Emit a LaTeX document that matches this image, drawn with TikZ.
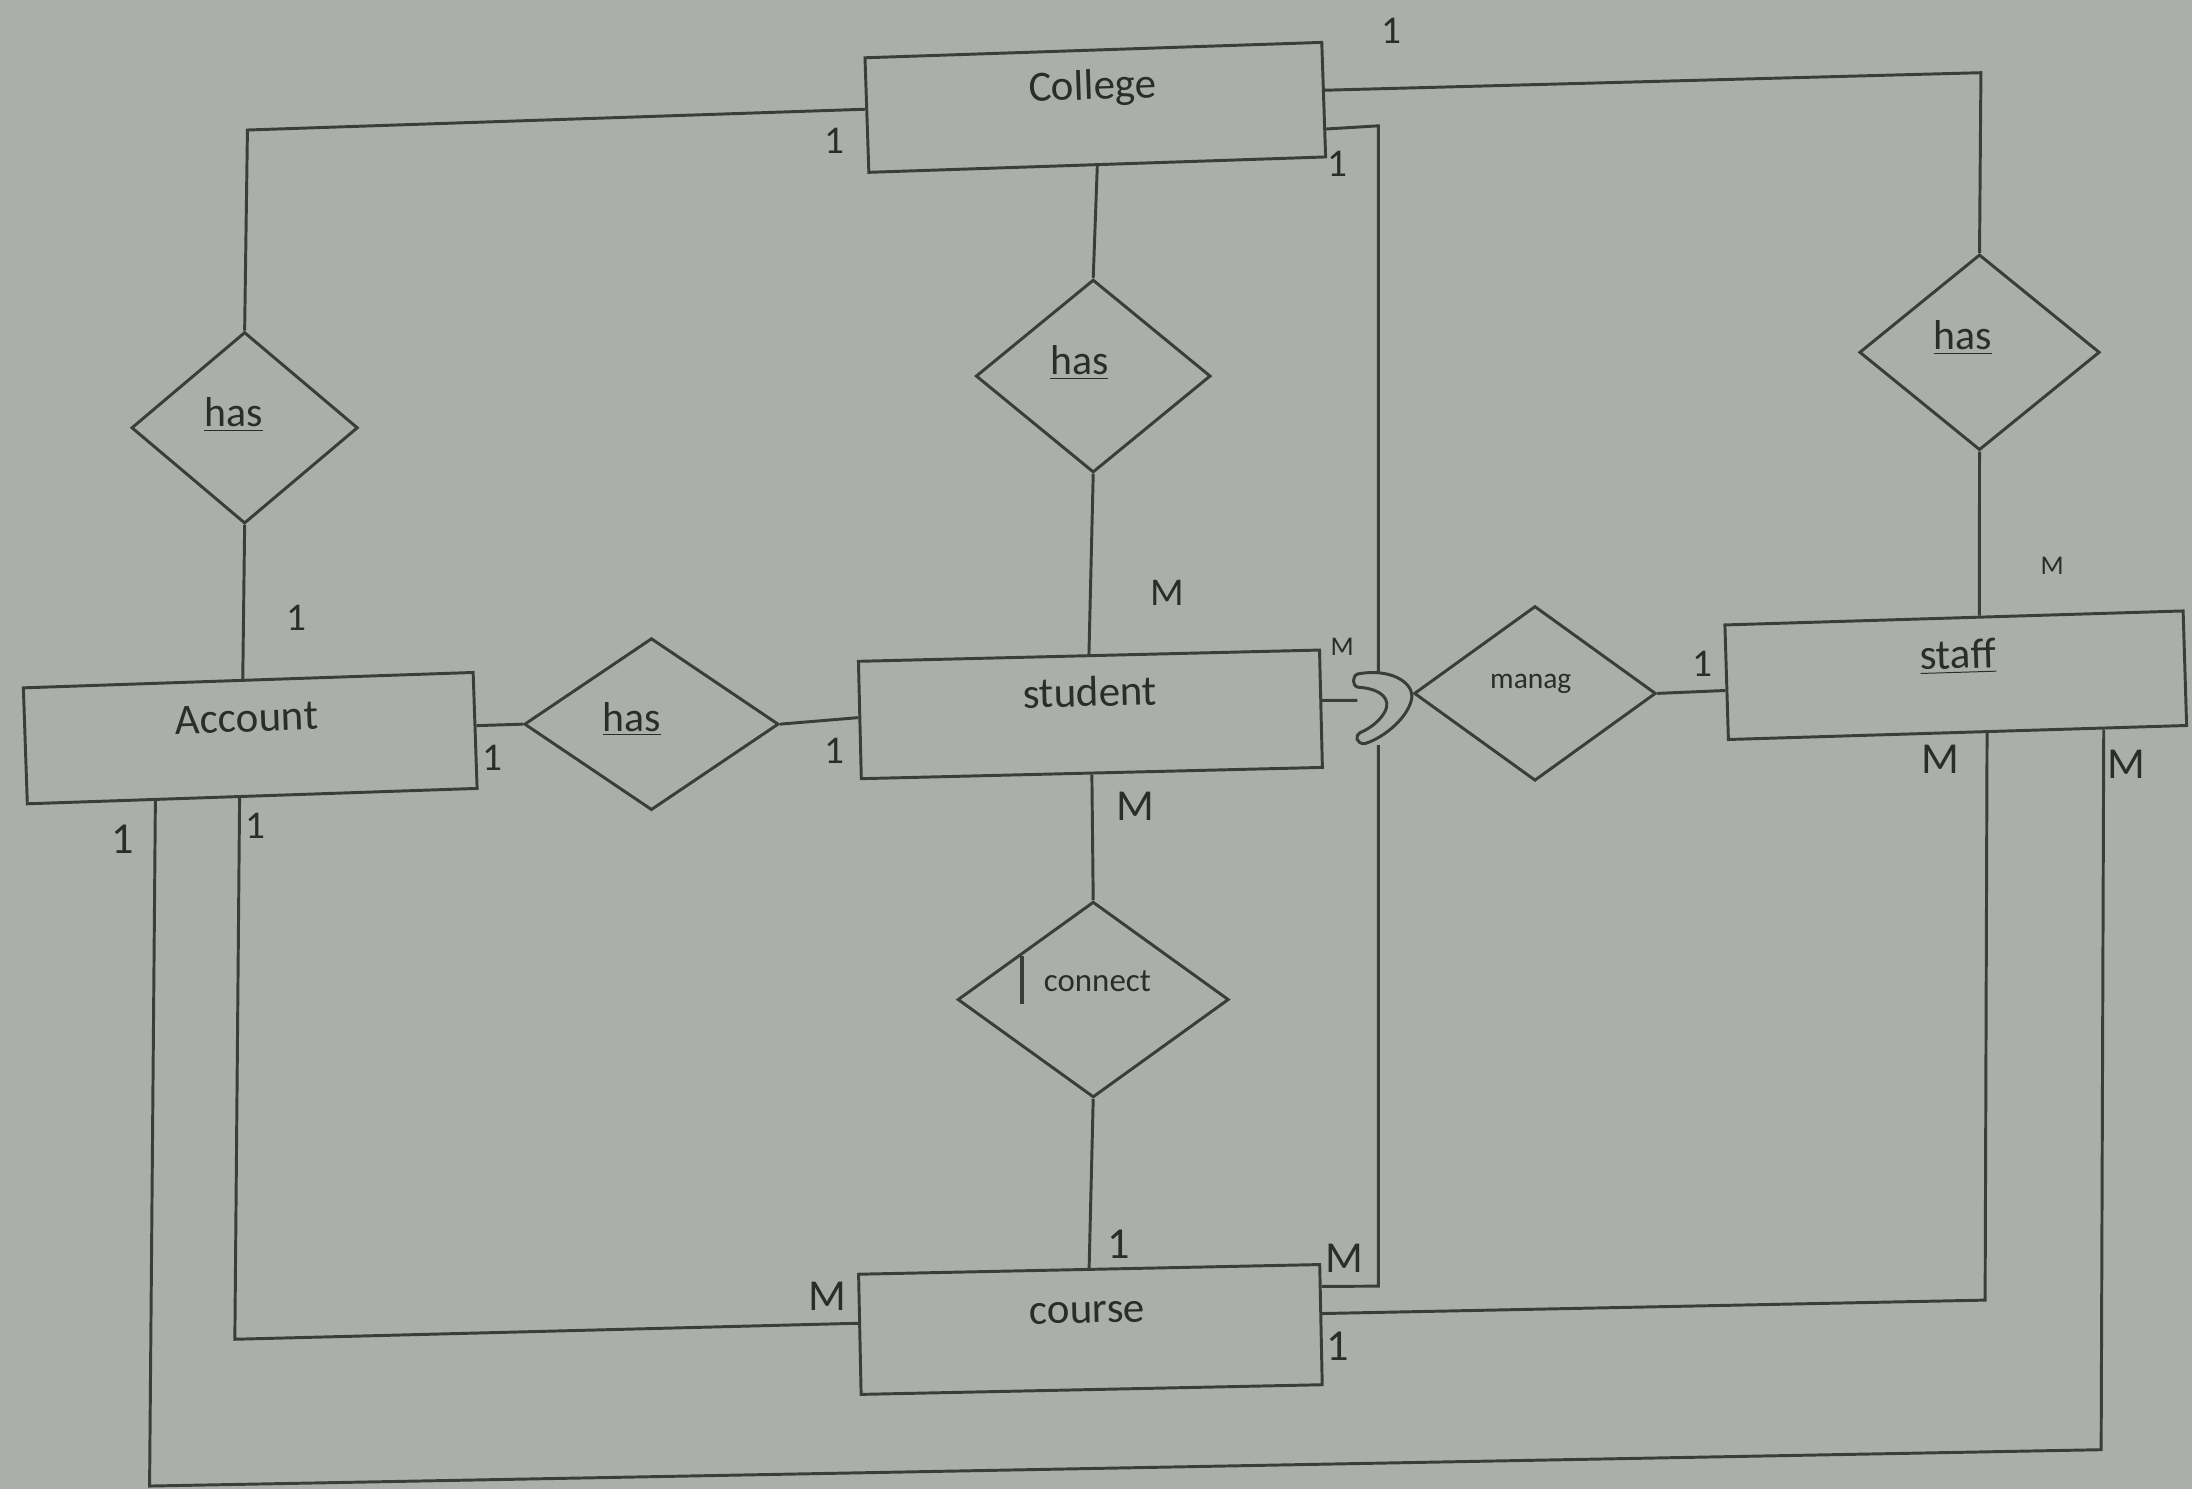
\documentclass[tikz,border=0pt]{standalone}
\usepackage{fontspec}
\setmainfont{Carlito}
\usetikzlibrary{shapes.geometric,calc}
\definecolor{bgc}{RGB}{170,175,169}
\definecolor{inkc}{RGB}{58,62,58}
\definecolor{txtc}{RGB}{42,45,42}
\newcommand\offtxt[3]{\makebox[0pt]{\hspace*{#1}\hspace*{#1}\raisebox{\dimexpr#2-0.27em\relax}[0pt][0pt]{#3}}}
\begin{document}
\begin{tikzpicture}[x=0.02cm, y=-0.02cm,
  entity/.style={rectangle, draw=inkc, line width=1.2pt, fill=bgc, inner sep=0pt, text=txtc, font=\fontsize{17.5}{20}\selectfont},
  rel/.style={diamond, draw=inkc, line width=1.2pt, fill=bgc, inner sep=0pt, text=txtc, font=\fontsize{17}{20}\selectfont},
  conn/.style={draw=inkc, line width=1.2pt},
  card/.style={text=txtc, inner sep=0pt, font=\fontsize{16}{18}\selectfont},
  hand/.style={text=txtc, inner sep=0pt, font=\fontsize{18}{20}\selectfont},
  tiny/.style={text=txtc, inner sep=0pt, font=\fontsize{11}{12}\selectfont}]
\fill[bgc] (0,0) rectangle (1568,1065);
\useasboundingbox (0,0) rectangle (1568,1065);

% entities
\node[entity, rotate=1.93, minimum width=6.54cm, minimum height=1.64cm] (college) at (783.5,76.8) {\offtxt{-0.03cm}{0.28cm}{College}};
\node[entity, rotate=1.96, minimum width=6.44cm, minimum height=1.66cm] (account) at (179,528) {\offtxt{-0.04cm}{0.26cm}{Account}};
\node[entity, rotate=1.4, minimum width=6.60cm, minimum height=1.68cm] (student) at (780,511) {\offtxt{0cm}{0.28cm}{student}};
\node[entity, rotate=1.75, minimum width=6.56cm, minimum height=1.64cm] (staff) at (1399,483) {\offtxt{0.04cm}{0.26cm}{\underline{staff}}};
\node[entity, rotate=1.2, minimum width=6.60cm, minimum height=1.72cm] (course) at (780,951) {\offtxt{-0.04cm}{0.26cm}{course}};

% relationships
\node[rel, minimum width=3.24cm, minimum height=2.74cm] (hasL) at (175,306) {\offtxt{-0.16cm}{0.18cm}{\underline{has}}};
\node[rel, minimum width=3.36cm, minimum height=2.76cm] (hasC) at (782,269) {\offtxt{-0.2cm}{0.18cm}{\underline{has}}};
\node[rel, minimum width=3.44cm, minimum height=2.80cm] (hasR) at (1416,252) {\offtxt{-0.24cm}{0.2cm}{\underline{has}}};
\node[rel, minimum width=3.64cm, minimum height=2.46cm] (hasA) at (466,518) {\offtxt{-0.28cm}{0.06cm}{\underline{has}}};
\node[rel, minimum width=3.46cm, minimum height=2.50cm, font=\fontsize{12}{14}\selectfont] (manag) at (1098,496) {\offtxt{-0.06cm}{0.18cm}{manag}};
\node[rel, minimum width=3.88cm, minimum height=2.80cm, font=\fontsize{13.4}{15}\selectfont] (connect) at (782,715) {\offtxt{0.06cm}{0.24cm}{connect}};
\draw[inkc, line width=1.6pt] ($(connect.center)+(-51,-31)$) -- ($(connect.center)+(-51,3)$);

% free coordinates around the line hop
\coordinate (hoptop) at (986,481);
\coordinate (hopbot) at (986,533);
\coordinate (hopin) at (971,501);

% connectors
\draw[conn] ($(college.north west)!0.45!(college.south west)$) -- (177,93) -- (hasL.north);
\draw[conn] (hasL.south) -- ($(account.north west)!0.488!(account.north east)$);
\draw[conn] (college.south) -- (hasC.north);
\draw[conn] (hasC.south) -- (student.north);
\draw[conn] ($(college.north east)!0.42!(college.south east)$) -- (1417,52) -- (hasR.north);
\draw[conn] (hasR.south) -- ($(staff.north west)!0.555!(staff.north east)$);
\draw[conn] ($(college.north east)!0.75!(college.south east)$) -- (986,90) -- (hoptop);
\draw[conn] (hopbot) -- (986,920) -- ($(course.north east)!0.19!(course.south east)$);
\draw[conn] ($(course.north east)!0.41!(course.south east)$) -- (1420,930) -- ($(staff.south west)!0.564!(staff.south east)$);
\draw[conn] ($(course.north west)!0.41!(course.south west)$) -- (168,958) -- ($(account.south west)!0.472!(account.south east)$);
\draw[conn] ($(account.south west)!0.286!(account.south east)$) -- (107,1063) -- (1503,1037) -- ($(staff.south west)!0.817!(staff.south east)$);
\draw[conn] ($(account.north east)!0.46!(account.south east)$) -- (hasA.west);
\draw[conn] (hasA.east) -- ($(student.north west)!0.48!(student.south west)$);
\draw[conn] (student.south) -- (connect.north);
\draw[conn] (connect.south) -- (course.north);
\draw[conn] ($(student.north east)!0.43!(student.south east)$) -- (hopin);
\draw[conn] (manag.east) -- ($(staff.north west)!0.57!(staff.south west)$);

% the hop
\draw[conn, fill=bgc] (971.6,482) .. controls (995,478) and (1010,488) .. (1010,498)
  .. controls (1009,512) and (990,528) .. (976,532)
  .. controls (970,532) and (969,526) .. (973,524)
  .. controls (983,520) and (993,510) .. (992,503)
  .. controls (991,495) and (980,492) .. (971.6,491.6)
  .. controls (967,491) and (967,483) .. (971.6,482) -- cycle;

% cardinalities
\node[card] (c1) at (597,101) {1};
\node[card] (c2) at (995,22) {1};
\node[card] (c3) at (957,117) {1};
\node[card] (c4) at (835,424) {M};
\node[tiny] (c5) at (1468,405) {M};
\node[card] (c6) at (212,442) {1};
\node[card] (c7) at (352,542) {1};
\node[card] (c8) at (597,537) {1};
\node[tiny] (c9) at (960,463) {M};
\node[card] (c10) at (1218,475) {1};
\node[hand] (c11) at (1388,543) {M};
\node[hand] (c12) at (1521,547) {M};
\node[hand] (c13) at (812,577) {M};
\node[hand] (c14) at (88,600) {1};
\node[card] (c15) at (183,591) {1};
\node[hand] (c16) at (800,890) {1};
\node[hand] (c17) at (962,900) {M};
\node[hand] (c18) at (592,927) {M};
\node[hand] (c19) at (957,963) {1};
\end{tikzpicture}
\end{document}
